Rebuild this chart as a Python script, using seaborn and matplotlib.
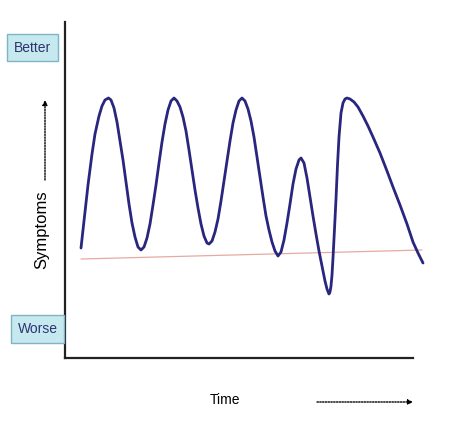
import matplotlib
matplotlib.use("Agg")
import matplotlib.pyplot as plt
import pandas as pd
import seaborn as sns

# symptom curve (time units, symptom units)
time_points = [
    16, 20, 23, 27, 30, 34, 37, 40, 43.5,
    46, 49, 52, 55, 58, 61, 64, 67, 70, 73, 76,
    79, 82, 85, 88, 91, 94, 97, 100, 103, 106, 109,
    112, 115, 118, 121, 124, 127, 130, 133, 136, 139, 142, 144,
    147, 150, 153, 156, 159, 162, 165, 168, 171, 174, 177,
    180, 183, 186, 189, 192, 195, 198, 201, 204, 207, 210, 213,
    216, 219, 222, 225, 228, 231, 234, 236,
    239, 242, 245, 248, 251, 254, 257, 260, 262, 264,
    265, 266, 267, 268, 269.5, 271, 272.5, 274, 276, 278, 280, 282,
    285, 289, 293, 298, 303, 308, 315, 322, 328, 335, 342, 348, 353, 358,
]
symptom_scores = [
    110, 146, 173, 204, 224, 242, 252, 258, 260,
    258, 250, 236, 217, 198, 176, 154, 135, 121, 111, 108,
    111, 120, 134, 153, 173, 195, 216, 234, 248, 257, 260,
    257, 251, 241, 227, 208, 188, 168, 150, 134, 122, 115, 114,
    117, 126, 139, 157, 177, 197, 217, 235, 248, 257, 260,
    257, 249, 237, 221, 201, 181, 161, 142, 128, 116, 107, 102,
    106, 118, 135, 154, 174, 189, 198, 200,
    195, 180, 161, 142, 124, 107, 92, 77, 69, 64,
    66, 72, 83, 100, 129, 159, 193, 221, 245, 255, 259, 260,
    259, 256, 251, 242, 232, 221, 205, 187, 171, 153, 134, 116, 105, 95,
]

# faint baseline trend
trend_time = [16, 357]
trend_scores = [99, 108]

sns.set_style("white")
plt.rcParams["font.family"] = ["Liberation Sans", "DejaVu Sans"]

fig = plt.figure(figsize=(4.55, 4.24), dpi=100)
ax = fig.add_axes([65 / 455, 66 / 424, 348 / 455, 336 / 424])

curve = pd.DataFrame({"time": time_points, "symptoms": symptom_scores})
trend = pd.DataFrame({"time": trend_time, "symptoms": trend_scores})

sns.lineplot(data=trend, x="time", y="symptoms", ax=ax, color="#e6aaa2",
             linewidth=0.9, sort=False, clip_on=False)
sns.lineplot(data=curve, x="time", y="symptoms", ax=ax, color="#28267e",
             linewidth=2.0, sort=False, clip_on=False,
             solid_joinstyle="round", solid_capstyle="round")

ax.set_xlim(0, 348)
ax.set_ylim(0, 336)
ax.set_xticks([])
ax.set_yticks([])
ax.set_xlabel("")
ax.set_ylabel("")
sns.despine(ax=ax)
for side in ["left", "bottom"]:
    ax.spines[side].set_color("#222222")
    ax.spines[side].set_linewidth(1.6)

box = dict(boxstyle="square,pad=0.5", facecolor="#c6e8ef", edgecolor="#7fb4c4", linewidth=1)
fig.text(32.5 / 455, 1 - 47.5 / 424, "Better", ha="center", va="center", fontsize=10,
         color="#2c3470", bbox=box)
fig.text(37.5 / 455, 1 - 329 / 424, "Worse", ha="center", va="center", fontsize=10,
         color="#2c3470", bbox=box)

fig.text(42 / 455, 1 - 230 / 424, "Symptoms", rotation=90, ha="center", va="center",
         fontsize=12, color="black")
fig.text(225 / 455, 1 - 400 / 424, "Time", ha="center", va="center", fontsize=10,
         color="black")

arrow = dict(arrowstyle="-|>", linestyle=(0, (1, 1)), linewidth=1, color="black",
             mutation_scale=7, shrinkA=0, shrinkB=0)
ax.annotate("", xy=(45, 424 - 100), xytext=(45, 424 - 180),
            xycoords="figure pixels", textcoords="figure pixels", arrowprops=arrow)
ax.annotate("", xy=(413, 424 - 402), xytext=(317, 424 - 402),
            xycoords="figure pixels", textcoords="figure pixels", arrowprops=arrow)

fig.savefig("out.png", dpi=100)
